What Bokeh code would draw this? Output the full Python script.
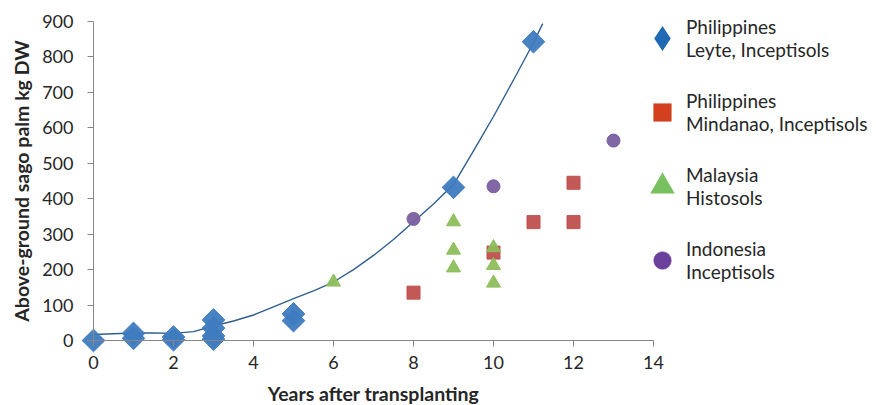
import math
from bokeh.plotting import figure
from bokeh.models import Range1d, FixedTicker, Legend, LegendItem
from bokeh.embed import file_html
from bokeh.resources import INLINE

# ---- data ----
leyte_x = [0, 1, 1, 2, 2, 3, 3, 3, 3, 5, 5, 9, 11]
leyte_y = [0, 20, 6, 10, 2, 58, 35, 13, 4, 75, 56, 432, 843]

mindanao_x = [8, 10, 11, 12, 12]
mindanao_y = [135, 248, 334, 334, 445]

malaysia_x = [6, 9, 9, 9, 10, 10, 10]
malaysia_y = [165, 335, 255, 205, 262, 212, 162]

indonesia_x = [8, 10, 13]
indonesia_y = [343, 435, 564]

trend_x = [0, 0.5, 1, 1.5, 2, 2.5, 3, 3.5, 4, 4.5, 5, 5.5, 6, 6.5, 7, 7.5, 8, 8.5,
           9, 9.5, 10, 10.5, 11, 11.23]
trend_y = [17, 19, 21, 21, 20, 25, 41, 55, 72, 95, 118, 140, 165, 200, 240, 285, 335,
           385, 440, 535, 632, 735, 840, 894]

x_ticks = [0, 2, 4, 6, 8, 10, 12, 14]
y_ticks = [0, 100, 200, 300, 400, 500, 600, 700, 800, 900]

labels = ["Philippines\nLeyte, Inceptisols",
          "Philippines\nMindanao, Inceptisols",
          "Malaysia\nHistosols",
          "Indonesia\nInceptisols"]

FONT = "Lato"
PX_X = 40.0          # px per year
PX_Y = 319.0 / 900   # px per kg
W, H = 868, 404
X0, Y0 = 93, 340     # pixel of the origin
p = figure(width=W, height=H, output_backend="svg", toolbar_location=None,
           x_range=Range1d(-X0 / PX_X, (W - X0) / PX_X),
           y_range=Range1d(-(H - Y0) / PX_Y, Y0 / PX_Y),
           min_border_left=0, min_border_right=0, min_border_top=0, min_border_bottom=0)
p.outline_line_color = None
p.grid.visible = False
p.background_fill_color = "white"

p.line(trend_x, trend_y, line_color="#2F5F90", line_width=1.4)

p.scatter(leyte_x, leyte_y, marker="square", angle=math.pi / 4, size=16,
          fill_color="#3E7BBF", line_color="#3E7BBF", fill_alpha=0.95)
p.scatter(mindanao_x, mindanao_y, marker="square", size=13,
          fill_color="#C0504D", line_color="#C0504D", fill_alpha=0.95)
p.scatter(malaysia_x, malaysia_y, marker="triangle", size=14,
          fill_color="#8DBE5C", line_color="#8DBE5C", fill_alpha=0.95)
p.scatter(indonesia_x, indonesia_y, marker="circle", size=13,
          fill_color="#7A5FA0", line_color="#7A5FA0", fill_alpha=0.95)

# legend-only glyphs (a single NaN point, never drawn in the plot)
nan = [float("nan")]
l1 = p.scatter(nan, nan, marker="diamond", fill_color="#1F6AB3", line_color="#1F6AB3",
               line_width=4, line_join="miter")
l2 = p.scatter(nan, nan, marker="square", fill_color="#D2401F", line_color="#D2401F",
               line_width=0.5)
l3 = p.scatter(nan, nan, marker="triangle", fill_color="#78C060", line_color="#78C060",
               line_width=4, line_join="miter")
l4 = p.scatter(nan, nan, marker="circle", fill_color="#6B3F9C", line_color="#6B3F9C",
               line_width=0.5)

for ax in (p.xaxis[0], p.yaxis[0]):
    ax.axis_line_color = "#868686"
    ax.major_tick_line_color = "#868686"
    ax.minor_tick_line_color = None
    ax.major_tick_in = 0
    ax.major_tick_out = 6
    ax.major_label_text_font = FONT
    ax.major_label_text_font_size = "18px"
    ax.major_label_text_color = "#262626"
    ax.axis_label_text_font = FONT
    ax.axis_label_text_font_style = "bold"
    ax.axis_label_text_font_size = "19.5px"
    ax.axis_label_text_color = "#262626"

p.xaxis[0].ticker = FixedTicker(ticks=x_ticks)
p.yaxis[0].ticker = FixedTicker(ticks=y_ticks)
p.xaxis[0].bounds = (0, 14)
p.yaxis[0].bounds = (0, 900)
p.xaxis[0].fixed_location = 0
p.yaxis[0].fixed_location = 0
p.xaxis[0].major_label_standoff = 9
p.yaxis[0].major_label_standoff = 14
p.xaxis[0].axis_label_standoff = 10
p.yaxis[0].axis_label_standoff = 6
p.xaxis[0].axis_label = "Years after transplanting"
p.yaxis[0].axis_label = "Above-ground sago palm kg DW"

legend = Legend(items=[LegendItem(label=labels[0], renderers=[l1]),
                       LegendItem(label=labels[1], renderers=[l2]),
                       LegendItem(label=labels[2], renderers=[l3]),
                       LegendItem(label=labels[3], renderers=[l4])],
                location=(640, 121))
legend.border_line_color = None
legend.background_fill_alpha = 0
legend.label_text_font = FONT
legend.label_text_font_size = "19px"
legend.label_text_color = "#262626"
legend.label_text_line_height = 1.3
legend.glyph_width = 44
legend.glyph_height = 44
legend.spacing = 28
legend.label_standoff = 2
p.add_layout(legend)

open("out.html", "w").write(file_html(p, INLINE))
